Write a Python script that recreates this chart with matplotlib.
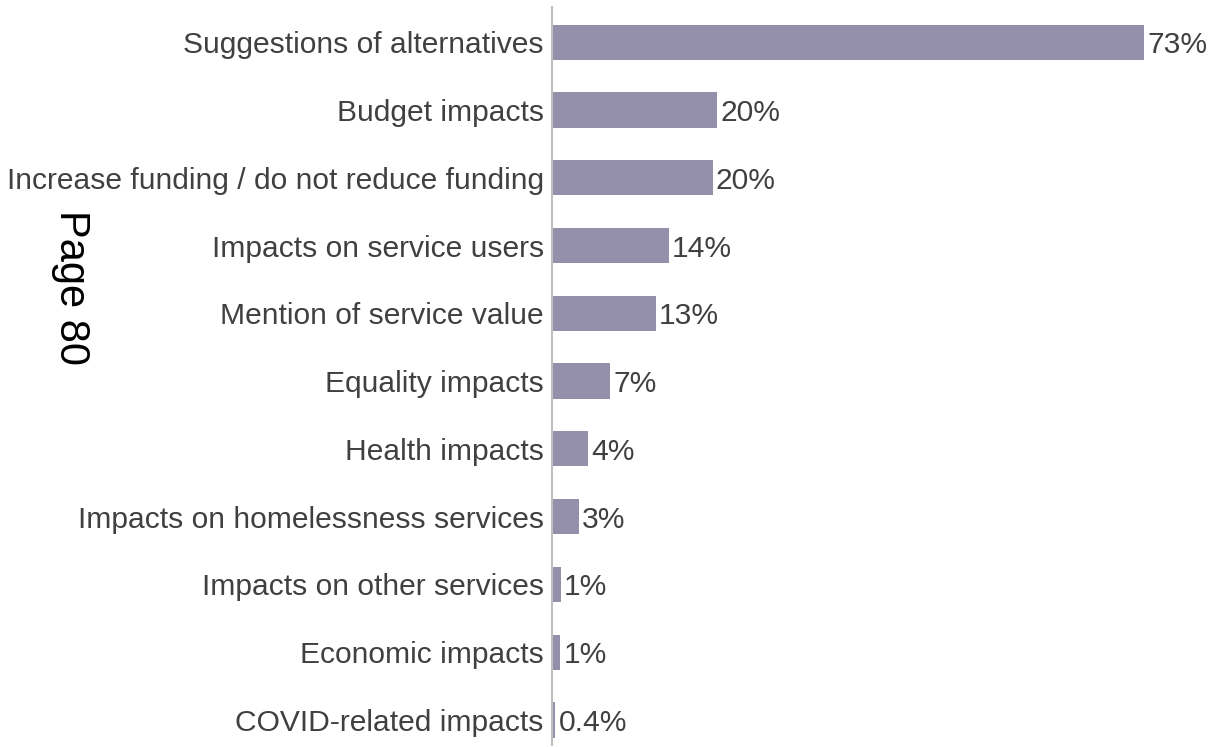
import matplotlib
matplotlib.use('agg')
import matplotlib.pyplot as plt

plt.rcParams['font.family'] = ['Liberation Sans', 'DejaVu Sans']

categories = ['Suggestions of alternatives', 'Budget impacts',
              'Increase funding / do not reduce funding',
              'Impacts on service users', 'Mention of service value',
              'Equality impacts', 'Health impacts',
              'Impacts on homelessness services',
              'Impacts on other services', 'Economic impacts',
              'COVID-related impacts']
values = [73, 20.4, 19.8, 14.4, 12.8, 7.2, 4.4, 3.3, 1.1, 1.0, 0.4]
labels = ['73%', '20%', '20%', '14%', '13%', '7%', '4%', '3%', '1%', '1%', '0.4%']

bar_color = '#948fab'
text_color = '#404040'

fig = plt.figure(figsize=(12.09, 7.47), dpi=100)
ax = fig.add_axes([552 / 1209, 2 / 747, 1 - 552 / 1209, 738 / 747])

pos = list(range(len(categories)))
ax.barh(pos, values, height=0.52, color=bar_color)
for y, v, lab in zip(pos, values, labels):
    ax.text(v + 0.4, y, lab, va='center_baseline', ha='left', fontsize=21.6,
            color=text_color)

ax.set_yticks(pos)
ax.set_yticklabels(categories, fontsize=21.6, color=text_color)
ax.tick_params(axis='y', length=0, pad=6)
ax.set_xticks([])
ax.set_xlim(0, (1209 - 552) / 8.11)
ax.set_ylim(len(categories) - 1 + 0.37, -0.52)

for side in ['top', 'right', 'bottom']:
    ax.spines[side].set_visible(False)
ax.spines['left'].set_color('#bfbfbf')
ax.spines['left'].set_linewidth(1.5)

fig.text(71 / 1209, 1 - 287 / 747, 'Page 80', rotation=-90, fontsize=30,
         ha='center', va='center', color='black')

fig.savefig('out.png', dpi=100)
